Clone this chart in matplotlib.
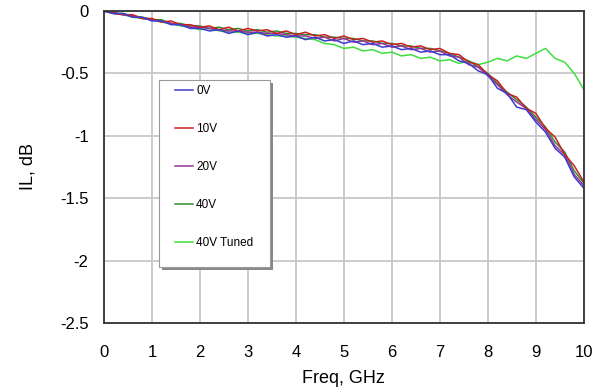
import matplotlib
matplotlib.use("Agg")
import matplotlib.pyplot as plt
from matplotlib.patches import Rectangle
import numpy as np

plt.rcParams['font.family'] = ['Liberation Sans', 'DejaVu Sans']

# frecuencia en GHz (paso 0.2)
freq = np.round(np.arange(0, 10.01, 0.2), 1)

il_0v = [0.00, -0.02, -0.02, -0.05, -0.05, -0.08, -0.08, -0.11, -0.11, -0.14,
         -0.14, -0.16, -0.15, -0.18, -0.16, -0.19, -0.17, -0.20, -0.19, -0.21,
         -0.20, -0.23, -0.21, -0.24, -0.23, -0.26, -0.24, -0.27, -0.26, -0.29,
         -0.28, -0.31, -0.30, -0.33, -0.32, -0.35, -0.35, -0.40, -0.42, -0.48,
         -0.51, -0.62, -0.66, -0.77, -0.79, -0.89, -0.97, -1.10, -1.17, -1.33,
         -1.42]
il_10v = [0.00, -0.01, -0.03, -0.03, -0.06, -0.06, -0.09, -0.08, -0.11, -0.11,
          -0.13, -0.12, -0.15, -0.13, -0.16, -0.14, -0.16, -0.15, -0.18, -0.16,
          -0.19, -0.17, -0.20, -0.19, -0.22, -0.20, -0.23, -0.22, -0.25, -0.24,
          -0.27, -0.26, -0.29, -0.28, -0.31, -0.30, -0.34, -0.35, -0.41, -0.43,
          -0.51, -0.56, -0.66, -0.69, -0.78, -0.82, -0.94, -1.01, -1.15, -1.24,
          -1.37]
il_20v = [0.00, -0.02, -0.03, -0.04, -0.06, -0.07, -0.08, -0.10, -0.11, -0.13,
          -0.13, -0.14, -0.15, -0.16, -0.16, -0.17, -0.17, -0.18, -0.18, -0.19,
          -0.20, -0.20, -0.22, -0.21, -0.24, -0.22, -0.25, -0.24, -0.27, -0.26,
          -0.29, -0.28, -0.31, -0.30, -0.33, -0.32, -0.36, -0.37, -0.43, -0.45,
          -0.52, -0.59, -0.67, -0.73, -0.78, -0.87, -0.95, -1.08, -1.15, -1.31,
          -1.40]
il_40v = [0.00, -0.02, -0.02, -0.04, -0.05, -0.07, -0.07, -0.10, -0.10, -0.12,
          -0.12, -0.14, -0.13, -0.15, -0.14, -0.16, -0.15, -0.17, -0.16, -0.18,
          -0.18, -0.19, -0.19, -0.21, -0.21, -0.22, -0.22, -0.24, -0.24, -0.26,
          -0.26, -0.28, -0.28, -0.30, -0.30, -0.32, -0.34, -0.37, -0.40, -0.45,
          -0.50, -0.58, -0.65, -0.71, -0.77, -0.85, -0.93, -1.05, -1.13, -1.28,
          -1.38]
il_40v_tuned = [0.00, -0.02, -0.03, -0.05, -0.06, -0.07, -0.09, -0.10, -0.12, -0.13,
                -0.15, -0.14, -0.16, -0.17, -0.17, -0.18, -0.18, -0.19, -0.20, -0.20,
                -0.21, -0.22, -0.23, -0.26, -0.27, -0.30, -0.29, -0.32, -0.31, -0.34,
                -0.33, -0.36, -0.35, -0.38, -0.37, -0.40, -0.39, -0.42, -0.40, -0.43,
                -0.41, -0.38, -0.40, -0.36, -0.38, -0.34, -0.30, -0.38, -0.41, -0.50,
                -0.63]

series = [("0V", il_0v, "#3c3cd0"),
          ("10V", il_10v, "#cc2020"),
          ("20V", il_20v, "#993399"),
          ("40V", il_40v, "#2f8f2f"),
          ("40V Tuned", il_40v_tuned, "#40dd40")]

fig = plt.figure(figsize=(5.97, 3.92), dpi=100)
ax = fig.add_axes([0.174, 0.176, 0.804, 0.796])

# dibujar en orden inverso para que el azul/rojo quede arriba
for label, vals, color in reversed(series):
    ax.plot(freq, vals, color=color, lw=1.1, label=label)

ax.set_xlim(0, 10)
ax.set_ylim(-2.5, 0)
ax.set_xticks(range(0, 11))
ax.set_yticks([0, -0.5, -1, -1.5, -2, -2.5])
ax.set_yticklabels(["0", "-0.5", "-1", "-1.5", "-2", "-2.5"])
ax.grid(True, color="#c8c8c8", lw=1.3)
ax.tick_params(length=0, labelsize=12)
ax.tick_params(axis="x", pad=16)
ax.tick_params(axis="y", pad=11)
for s in ax.spines.values():
    s.set_color("#333333")
    s.set_linewidth(1.3)

ax.set_xlabel("Freq, GHz", fontsize=13, labelpad=7)
ax.set_ylabel("IL, dB", fontsize=13, labelpad=17)

# caja de la leyenda con sombra
ax.add_patch(Rectangle((0.121, 0.170), 0.231, 0.599, transform=ax.transAxes,
                       facecolor="#888888", edgecolor="none", zorder=4))
ax.add_patch(Rectangle((0.115, 0.180), 0.231, 0.599, transform=ax.transAxes,
                       facecolor="white", edgecolor="#999999", lw=0.8, zorder=5))

handles, labels = ax.get_legend_handles_labels()
leg = ax.legend(handles[::-1], labels[::-1], loc="upper left",
                bbox_to_anchor=(0.148, 0.762), fontsize=8.5, labelspacing=2.2,
                handlelength=1.5, handletextpad=0.3, borderpad=0,
                borderaxespad=0, frameon=False)
leg.set_zorder(6)

fig.savefig("out.png", dpi=100)
